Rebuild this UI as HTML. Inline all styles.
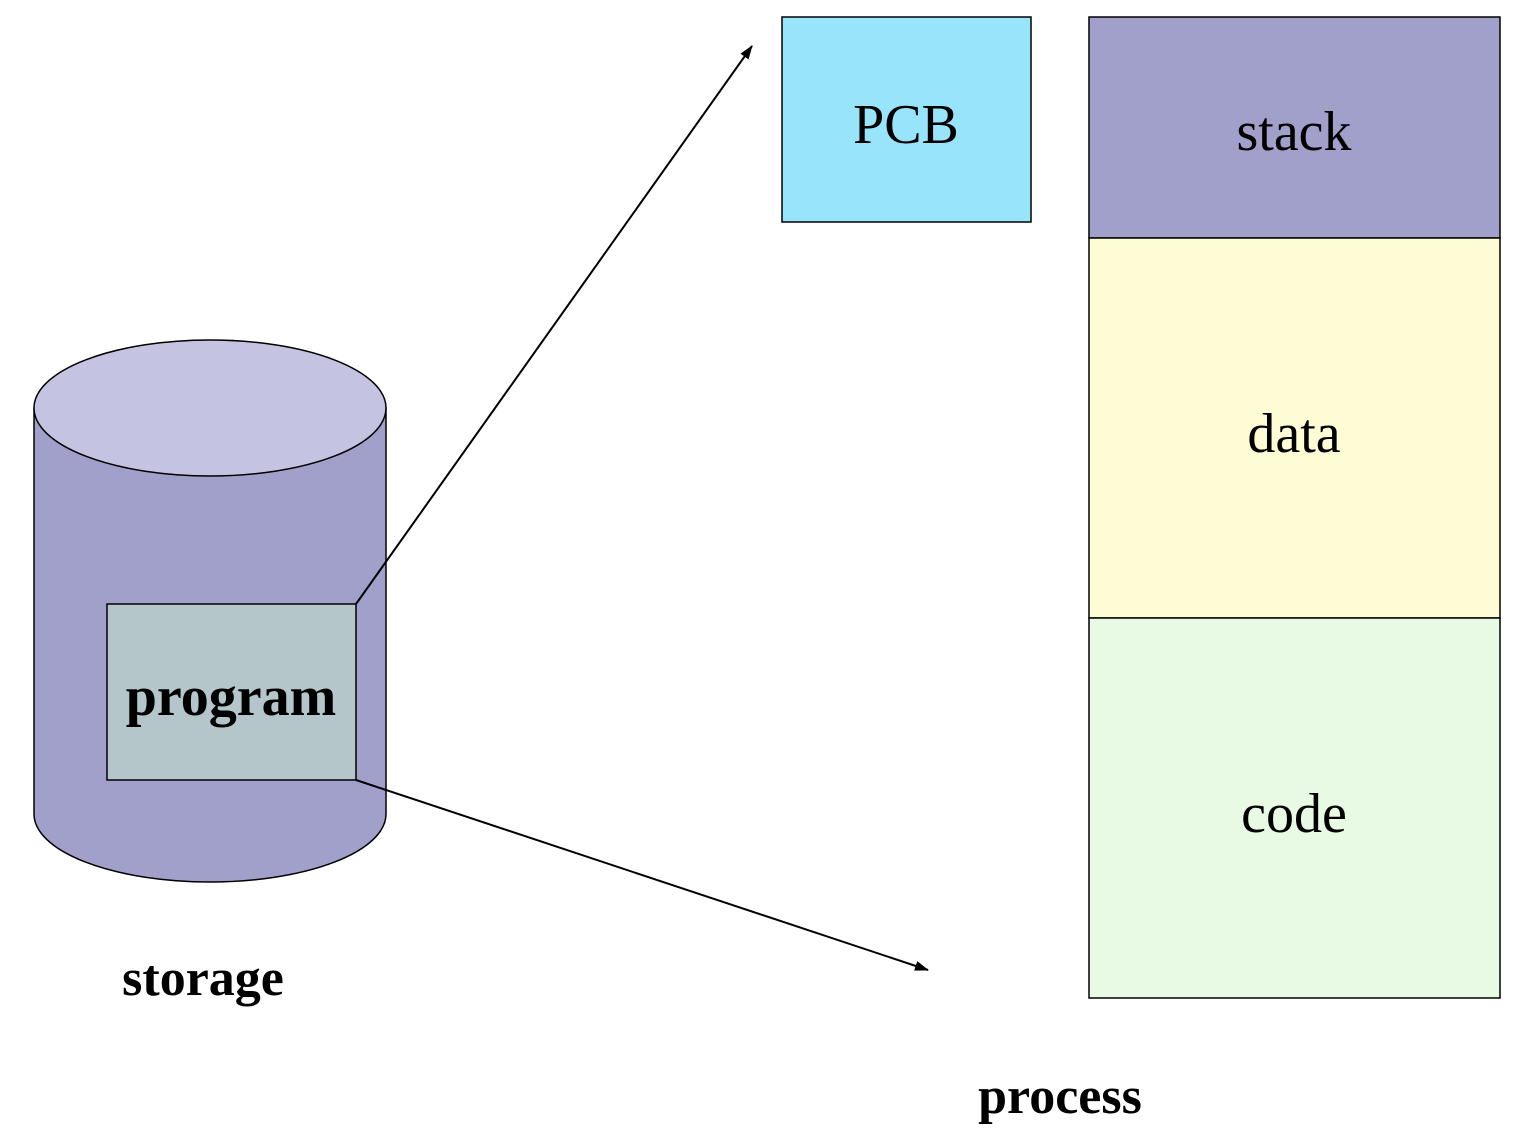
<!DOCTYPE html>
<html><head><style>html,body{margin:0;padding:0;background:#fff;}</style></head>
<body>
<svg width="1522" height="1136" viewBox="0 0 1522 1136" xmlns="http://www.w3.org/2000/svg" font-family="'Liberation Serif', serif">
<defs><marker id="a" markerWidth="10" markerHeight="8" refX="9" refY="4" orient="auto" markerUnits="userSpaceOnUse"><path d="M0,0 L10,4 L0,8 z" fill="#000"/></marker>
<marker id="b" markerWidth="14" markerHeight="10" refX="13" refY="5" orient="auto" markerUnits="userSpaceOnUse"><path d="M0,0 L14,5 L0,10 z" fill="#000"/></marker></defs>
<path d="M34,408 L34,814 A176,68 0 0 0 386,814 L386,408 Z" fill="#a0a0ca" stroke="#000" stroke-width="1.5"/>
<ellipse cx="210" cy="408" rx="176" ry="68" fill="#c4c4e2" stroke="#000" stroke-width="1.5"/>
<rect x="107" y="604" width="249" height="176" fill="#b4c6ca" stroke="#000" stroke-width="1.5"/>
<text x="231" y="715" font-size="56" font-weight="bold" text-anchor="middle">program</text>
<line x1="356" y1="604" x2="752" y2="46" stroke="#000" stroke-width="2" marker-end="url(#b)"/>
<line x1="356" y1="780" x2="928" y2="970" stroke="#000" stroke-width="2" marker-end="url(#b)"/>
<rect x="782" y="17" width="249" height="205" fill="#98e4fa" stroke="#000" stroke-width="1.5"/>
<text x="906" y="143" font-size="56" text-anchor="middle">PCB</text>
<rect x="1089" y="17" width="411" height="221" fill="#a0a0ca" stroke="#000" stroke-width="1.5"/>
<rect x="1089" y="238" width="411" height="380" fill="#fefcd4" stroke="#000" stroke-width="1.5"/>
<rect x="1089" y="618" width="411" height="380" fill="#e8fae4" stroke="#000" stroke-width="1.5"/>
<text x="1294" y="150" font-size="56" text-anchor="middle">stack</text>
<text x="1294" y="452" font-size="56" text-anchor="middle">data</text>
<text x="1294" y="832" font-size="56" text-anchor="middle">code</text>
<text x="203" y="995" font-size="52" font-weight="bold" text-anchor="middle">storage</text>
<text x="1060" y="1113" font-size="52" font-weight="bold" text-anchor="middle">process</text>
</svg>
</body></html>
